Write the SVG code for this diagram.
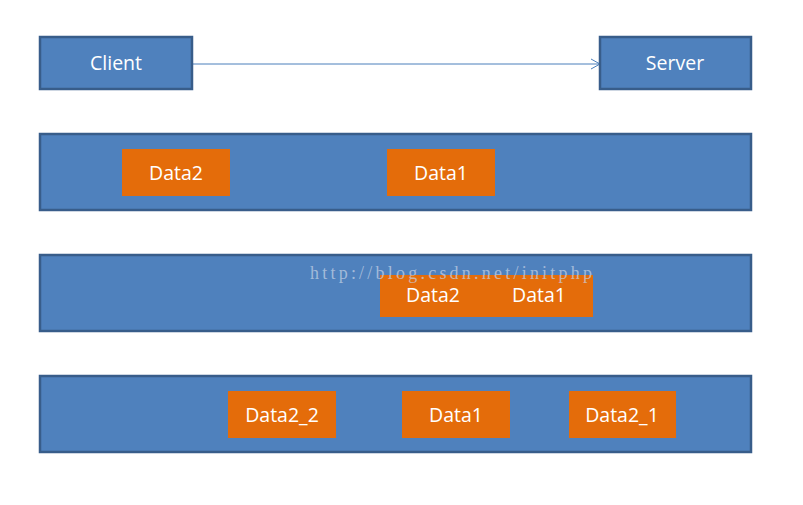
<svg xmlns="http://www.w3.org/2000/svg" width="803" height="505" viewBox="0 0 803 505">
<style>
.b{fill:#4f81bd;stroke:#385d8a;stroke-width:2.5}
.o{fill:#e46c0a}
.t{font-family:"Open Sans","Liberation Sans",sans-serif;font-size:19.5px;fill:#ffffff;text-anchor:middle;dominant-baseline:central}
.w{font-family:"Liberation Serif",serif;font-size:18px;fill:#c8d4e6;fill-opacity:0.7}
</style>
<defs>
<marker id="arr" markerWidth="12" markerHeight="12" refX="10" refY="6" orient="auto" markerUnits="userSpaceOnUse">
<path d="M1,1 L10,6 L1,11" fill="none" stroke="#4a7ebb" stroke-width="1"/>
</marker>
</defs>
<rect width="803" height="505" fill="#ffffff"/>
<g id="connectors">
<line x1="193" y1="64" x2="600" y2="64" stroke="#4a7ebb" stroke-width="1" marker-end="url(#arr)"/>
</g>
<g id="client"><rect class="b" x="40" y="37" width="152" height="52"/><text class="t" x="116" y="62">Client</text></g>
<g id="server"><rect class="b" x="600" y="37" width="151" height="52"/><text class="t" x="675" y="62">Server</text></g>
<g id="row1">
<rect class="b" x="40" y="134" width="711" height="76"/>
<g id="r1-data2"><rect class="o" x="122" y="149" width="108" height="47"/><text class="t" x="176" y="172">Data2</text></g>
<g id="r1-data1"><rect class="o" x="387" y="149" width="108" height="47"/><text class="t" x="441" y="172">Data1</text></g>
</g>
<g id="row2">
<rect class="b" x="40" y="255" width="711" height="76"/>
<g id="r2-data"><rect class="o" x="380" y="275" width="213" height="42"/><text class="t" x="433" y="294">Data2</text><text class="t" x="539" y="294">Data1</text></g>
<text class="w" x="310" y="279" textLength="282" lengthAdjust="spacing">http://blog.csdn.net/initphp</text>
</g>
<g id="row3">
<rect class="b" x="40" y="376" width="711" height="76"/>
<g id="r3-data2_2"><rect class="o" x="228" y="391" width="108" height="47"/><text class="t" x="282" y="414">Data2_2</text></g>
<g id="r3-data1"><rect class="o" x="402" y="391" width="108" height="47"/><text class="t" x="456" y="414">Data1</text></g>
<g id="r3-data2_1"><rect class="o" x="569" y="391" width="107" height="47"/><text class="t" x="622" y="414">Data2_1</text></g>
</g>
</svg>
